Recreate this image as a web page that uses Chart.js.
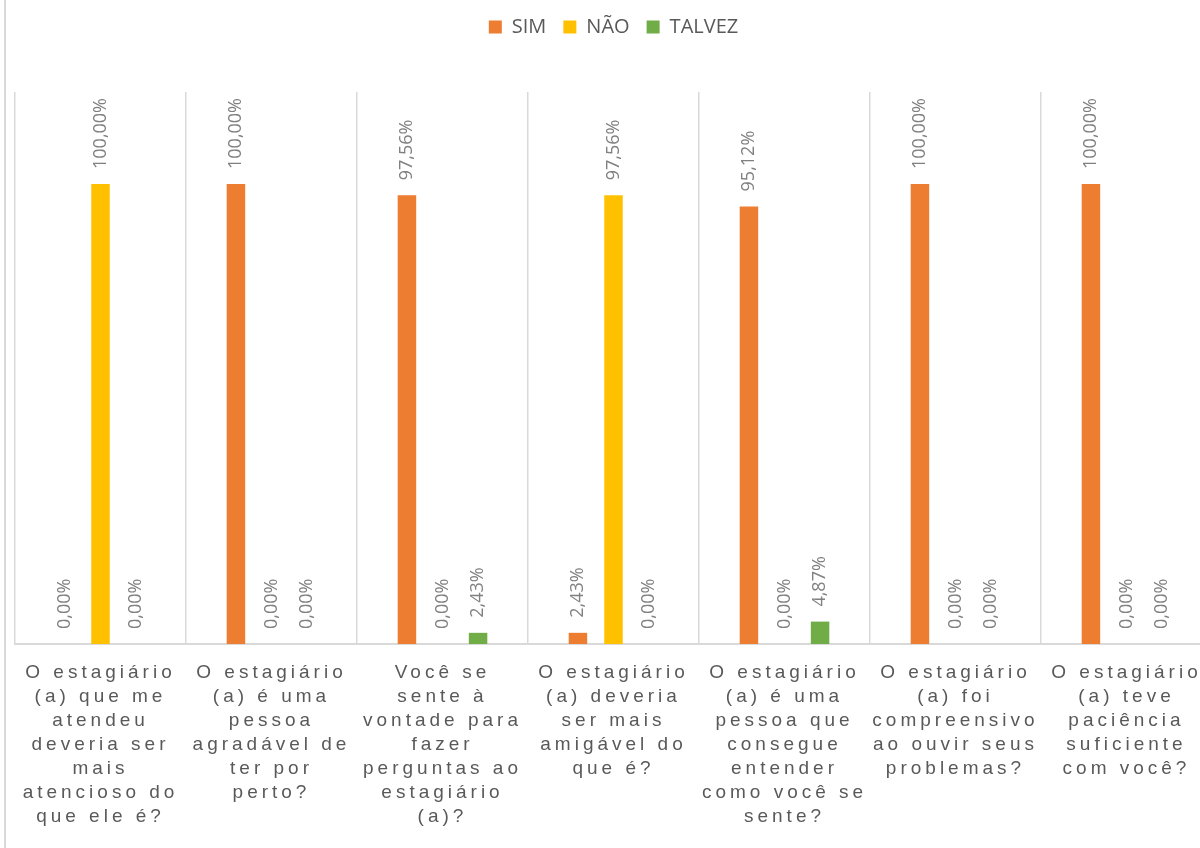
<!DOCTYPE html>
<html>
<head>
<meta charset="utf-8">
<script src="https://cdn.jsdelivr.net/npm/chart.js@4.4.0/dist/chart.umd.min.js"></script>
<style>
  html, body { margin: 0; padding: 0; background: #fff; overflow: hidden; }
  #wrap { position: relative; width: 1200px; height: 848px; overflow: hidden; }
  #edge { position: absolute; left: 4px; top: 0; width: 2px; height: 848px; background: #d9d9d9; }
  #myChart { position: absolute; left: 0; top: 0; }
</style>
</head>
<body>
<div id="wrap">
  <div id="edge"></div>
  <canvas id="myChart" width="1212" height="848"></canvas>
</div>
<script>
const labels = [
  ["O estagiário", "(a) que me", "atendeu", "deveria ser", "mais", "atencioso do", "que ele é?"],
  ["O estagiário", "(a) é uma", "pessoa", "agradável de", "ter por", "perto?"],
  ["Você se", "sente à", "vontade para", "fazer", "perguntas ao", "estagiário", "(a)?"],
  ["O estagiário", "(a) deveria", "ser mais", "amigável do", "que é?"],
  ["O estagiário", "(a) é uma", "pessoa que", "consegue", "entender", "como você se", "sente?"],
  ["O estagiário", "(a) foi", "compreensivo", "ao ouvir seus", "problemas?"],
  ["O estagiário", "(a) teve", "paciência", "suficiente", "com você?"]
];
const sim = [0, 100, 97.56, 2.43, 95.12, 100, 100];
const nao = [100, 0, 0, 97.56, 0, 0, 0];
const talvez = [0, 0, 2.43, 0, 4.87, 0, 0];

// bar value labels, rotated
const valueLabels = {
  id: 'valueLabels',
  afterDatasetsDraw(chart) {
    const ctx = chart.ctx;
    ctx.save();
    ctx.font = '18px "Open Sans"';
    ctx.fillStyle = '#808080';
    ctx.textAlign = 'left';
    ctx.textBaseline = 'middle';
    chart.data.datasets.forEach((ds, i) => {
      chart.getDatasetMeta(i).data.forEach((bar, j) => {
        const txt = ds.data[j].toFixed(2).replace('.', ',') + '%';
        ctx.save();
        ctx.translate(bar.x, bar.y - 15);
        ctx.rotate(-Math.PI / 2);
        ctx.fillText(txt, 0, 0);
        ctx.restore();
      });
    });
    ctx.restore();
  }
};

// legend box taller, x labels letter-spaced
const tweaks = {
  id: 'tweaks',
  beforeInit(chart) {
    const fit = chart.legend.fit;
    chart.legend.fit = function() {
      fit.call(this);
      this.height = 92;
    };
  },
  afterLayout(chart) {
    const s = chart.scales.x;
    if (!s._spaced) {
      const orig = s.drawLabels;
      s.drawLabels = function(area) {
        const c = this.ctx;
        c.save();
        c.letterSpacing = '4px';
        orig.call(this, area);
        c.restore();
      };
      s._spaced = true;
    }
  }
};

const data = {
  labels: labels,
  datasets: [
    { label: 'SIM', data: sim, backgroundColor: '#ED7D31' },
    { label: 'NÃO', data: nao, backgroundColor: '#FFC000' },
    { label: 'TALVEZ', data: talvez, backgroundColor: '#70AD47' }
  ]
};

const config = {
  type: 'bar',
  data: data,
  options: {
    responsive: false,
    animation: false,
    categoryPercentage: 0.624,
    barPercentage: 0.52,
    layout: { padding: { left: 15, right: 0, top: 0, bottom: 0 } },
    plugins: {
      tooltip: { enabled: false },
      legend: {
        position: 'top',
        labels: {
          boxWidth: 13,
          boxHeight: 13,
          padding: 17,
          color: '#595959',
          font: { family: '"Open Sans"', size: 20 }
        }
      }
    },
    scales: {
      x: {
        grid: { display: true, offset: true, color: '#d9d9d9', lineWidth: 1.5, drawTicks: false },
        border: { display: true, color: '#d9d9d9', width: 2 },
        ticks: {
          autoSkip: false,
          maxRotation: 0,
          minRotation: 0,
          padding: 17,
          color: '#595959',
          font: { family: '"Liberation Sans"', size: 19, lineHeight: '24px' }
        },
        afterFit(scale) { scale.height = 204; }
      },
      y: {
        display: false,
        min: 0,
        max: 120
      }
    }
  },
  plugins: [valueLabels, tweaks]
};

var myChart = new Chart(document.getElementById('myChart'), config);
</script>
</body>
</html>
